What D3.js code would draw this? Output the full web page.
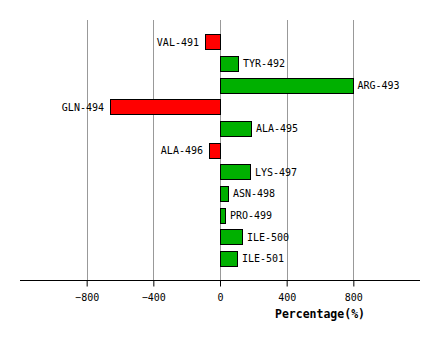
<!DOCTYPE html>
<html><head><meta charset="utf-8">
<script src="https://cdn.jsdelivr.net/npm/d3@7"></script>
<style>body{margin:0;background:#fff}svg{display:block}</style>
</head><body>
<script>
const categories = ["VAL-491","TYR-492","ARG-493","GLN-494","ALA-495","ALA-496","LYS-497","ASN-498","PRO-499","ILE-500","ILE-501"];
const values = [-90,108,795,-660,186,-66,180,48,30,132,102];
const tickValues = [-800,-400,0,400,800];
const axisTitle = "Percentage(%)";

const W=440,H=340;
const svg=d3.select("body").append("svg").attr("width",W).attr("height",H);
const x=d3.scaleLinear().domain([-1200,1200]).range([20,420]);
const y=d3.scalePoint().domain(categories).range([20,280]).padding(1);
const barH=15;
const font="'DejaVu Sans Mono', monospace";

// gridlines
svg.append("g").selectAll("line").data(tickValues).join("line")
  .attr("x1",d=>Math.round(x(d))+0.5).attr("x2",d=>Math.round(x(d))+0.5)
  .attr("y1",20).attr("y2",280).attr("stroke","#999").attr("stroke-width",1);

// bars
const data=categories.map((c,i)=>({c,v:values[i]}));
svg.append("g").selectAll("rect").data(data).join("rect")
  .attr("x",d=>Math.round(Math.min(x(0),x(d.v)))+0.5)
  .attr("y",d=>Math.round(y(d.c)-barH/2)+0.5)
  .attr("width",d=>Math.round(Math.abs(x(d.v)-x(0))))
  .attr("height",barH)
  .attr("fill",d=>d.v<0?"#ff0000":"#00b000")
  .attr("stroke","#000").attr("stroke-width",1);

// labels
svg.append("g").selectAll("text").data(data).join("text")
  .attr("x",d=>d.v<0?x(d.v)-6:x(d.v)+5)
  .attr("y",d=>y(d.c)+0.5)
  .attr("dy","0.35em")
  .attr("text-anchor",d=>d.v<0?"end":"start")
  .attr("font-family",font).attr("font-size",10).attr("fill","#000")
  .text(d=>d.c);

// axis
const axis=d3.axisBottom(x).tickValues(tickValues).tickSize(6).tickPadding(7).tickFormat(d3.format("d"));
const ag=svg.append("g").attr("transform","translate(0,280.5)").call(axis);
ag.select(".domain").remove();
ag.selectAll("text").attr("font-family",font).attr("font-size",10).attr("fill","#000");
ag.selectAll("line").attr("stroke","#000");
svg.append("line").attr("x1",20).attr("x2",420).attr("y1",280.5).attr("y2",280.5).attr("stroke","#000");

svg.append("text").attr("x",320).attr("y",314).attr("dy","0.35em")
  .attr("text-anchor","middle").attr("font-family",font).attr("font-weight","bold")
  .attr("font-size",11.5).attr("fill","#000").text(axisTitle);
</script>
</body></html>
